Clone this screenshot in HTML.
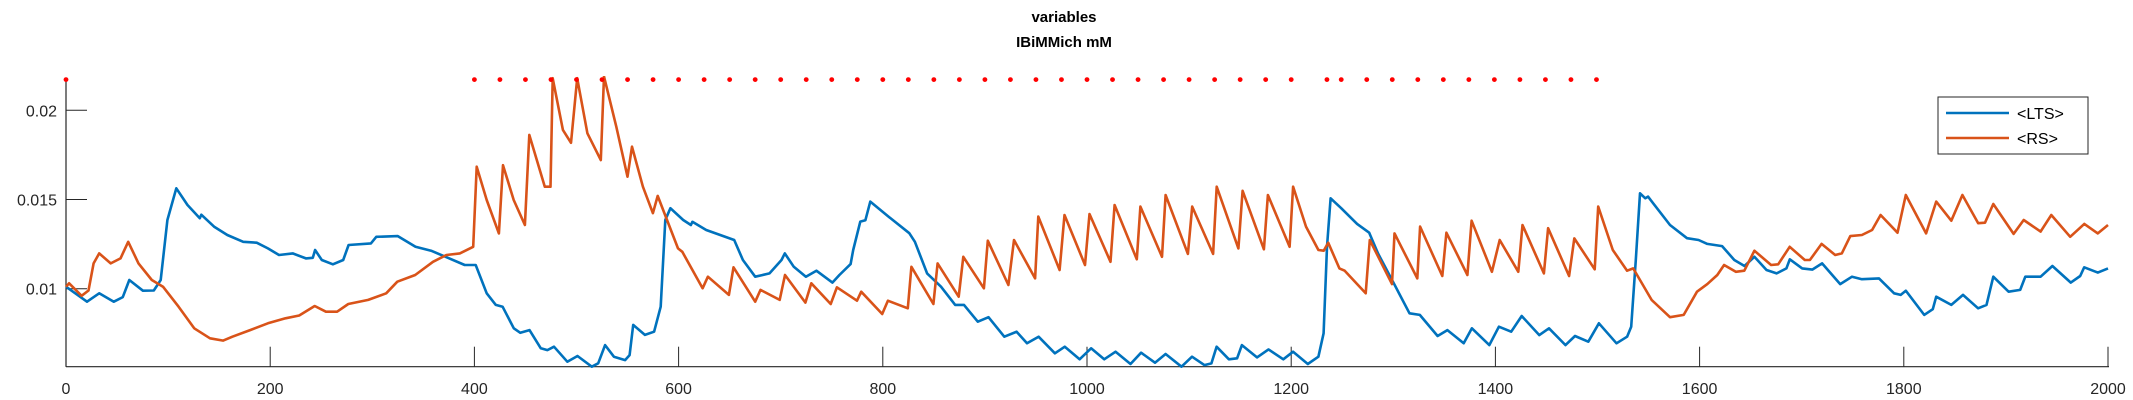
<!DOCTYPE html>
<html><head><meta charset="utf-8"><style>
body{margin:0;background:#fff;}
svg{display:block;font-family:"Liberation Sans",sans-serif;}
</style></head><body>
<svg id="chart" width="2133" height="400" viewBox="0 0 2133 400" xmlns="http://www.w3.org/2000/svg">
<text x="1064" y="22" text-anchor="middle" font-size="15" font-weight="bold" fill="#000">variables</text>
<text x="1064" y="47" text-anchor="middle" font-size="15" font-weight="bold" fill="#000">IBiMMich mM</text>
<g id="axes"></g>
<defs><clipPath id="clip"><rect x="60" y="76" width="2060" height="300"/></clipPath></defs>
<g id="plot" clip-path="url(#clip)"></g>
<g id="dots"></g>
<g>
<rect x="1938" y="97" width="150" height="57" fill="#fff" stroke="#262626" stroke-width="1"/>
<line x1="1946" y1="113" x2="2009" y2="113" stroke="#0072BD" stroke-width="2.5"/>
<text x="2017" y="119" font-size="16" fill="#000">&lt;LTS&gt;</text>
<line x1="1946" y1="138" x2="2009" y2="138" stroke="#D95319" stroke-width="2.5"/>
<text x="2017" y="144" font-size="16" fill="#000">&lt;RS&gt;</text>
</g>
</svg>
<script>
const xTicks=[0,200,400,600,800,1000,1200,1400,1600,1800,2000];
const yTicks=[0.01,0.015,0.02];
const yTickLabels=["0.01","0.015","0.02"];
const eventTimes=[0,400,425,450,475,500,525,550,575,600,625,650,675,700,725,750,775,800,825,850,875,900,925,950,975,1000,1025,1050,1075,1100,1125,1150,1175,1200,1235,1249,1274,1299,1324,1349,1374,1399,1424,1449,1474,1499];
const eventLevel=0.02172;
const ltsT=[0,20.6,32.5,46.8,55.6,62,75.3,86,92.8,99.3,108,119,131,132.5,145,158,173.6,186.8,197.7,208.6,222,235,241.7,244,250.5,261.4,271.5,276.8,298.6,303.9,325,342.3,357.6,372.9,390.5,401.3,412,421,427.6,438.6,445,454,465,471.5,478,491,501,515,521.3,528,536.6,547.6,552,555.5,567,576,582.5,587,592,604.5,612,613.5,627,654.5,663,675,689,700.8,704,712.8,724.7,735,750.6,757.5,768.5,771,778,783,787.8,805.6,826,831.4,843.4,857,870.9,879.5,893,903.5,919,931,941.2,952.6,968.6,978.3,992.8,1004,1016.8,1028,1042.6,1053,1066.6,1077,1092.6,1102.8,1115,1121.8,1126.9,1139,1147,1151.7,1166.5,1177.8,1192.3,1201.9,1216.3,1226.6,1231.7,1235.1,1238.6,1249,1264.5,1276.4,1285,1300.5,1315.9,1326,1343.4,1353,1369,1377,1394,1403.4,1415.5,1425.8,1443,1452.5,1468.7,1478,1491,1501.4,1518.6,1529,1533,1537.5,1541.6,1546.8,1549.5,1571,1587.7,1599,1607.5,1622,1634,1644,1653.7,1665.5,1675.4,1685,1688.3,1700.5,1710.4,1720,1737.7,1749.3,1759,1775.7,1790.5,1797,1802,1820,1828.4,1831.7,1846.5,1858,1872.8,1881,1887.7,1902.6,1914,1919,1934,1945.5,1963.6,1972.8,1976.7,1990,2000];
const ltsV=[0.01011,0.00927,0.00974,0.00927,0.00953,0.01049,0.00989,0.0099,0.01049,0.01385,0.01563,0.01469,0.01395,0.01415,0.01348,0.01301,0.01263,0.01258,0.01226,0.01189,0.01198,0.0117,0.01173,0.01217,0.01161,0.01137,0.01161,0.01245,0.01254,0.01291,0.01295,0.01235,0.01213,0.01176,0.01133,0.01133,0.00974,0.00909,0.00899,0.00778,0.00753,0.00768,0.00666,0.00656,0.00675,0.00591,0.00623,0.00563,0.00582,0.00684,0.00619,0.006,0.00628,0.00797,0.00741,0.00759,0.00899,0.01385,0.01451,0.01385,0.01357,0.01375,0.01329,0.01273,0.01161,0.01067,0.01086,0.01161,0.01198,0.01123,0.01067,0.01101,0.01034,0.01077,0.01138,0.01217,0.01376,0.01384,0.01488,0.01404,0.01311,0.01263,0.01086,0.01011,0.00909,0.00909,0.00815,0.0084,0.00731,0.00759,0.00694,0.00731,0.00638,0.00675,0.00604,0.00666,0.00604,0.00647,0.00578,0.00641,0.00585,0.00634,0.00563,0.00619,0.00572,0.00581,0.00675,0.00604,0.0061,0.00684,0.00615,0.0066,0.00604,0.00647,0.00578,0.00619,0.0075,0.01235,0.01507,0.01451,0.01363,0.01314,0.01198,0.0103,0.00862,0.00853,0.00735,0.00768,0.00694,0.00778,0.00684,0.00787,0.00759,0.00847,0.0074,0.00778,0.00684,0.00735,0.00703,0.00806,0.00694,0.00731,0.00787,0.01161,0.01535,0.01507,0.01516,0.01357,0.01283,0.01273,0.01251,0.01239,0.01161,0.01127,0.01179,0.01105,0.01086,0.01114,0.01165,0.01114,0.01107,0.01142,0.01026,0.01067,0.01053,0.01058,0.00974,0.00965,0.00989,0.00853,0.00885,0.00955,0.00909,0.00965,0.0089,0.00909,0.01067,0.00983,0.00993,0.01067,0.01067,0.01127,0.01034,0.01071,0.0112,0.0109,0.01114];
const rsT=[0,3,15.3,22,27,32.5,43.8,53.4,60.9,71,84,95,110.3,125.6,141,154,163,180.3,197.7,215,228.4,243.6,254.6,265.5,276.5,296,313.6,324.5,342,359.5,372.6,385.7,398.8,402.3,412,424,428,438.5,449.5,453.8,469,474.5,476.7,486.7,494.6,500.7,510.7,523.8,526.9,539,550,554.4,565,574.8,579.5,599.4,603.6,623.5,628.7,649.3,653.8,675,680.2,699,704.2,724.2,730,749,755,774.7,778.8,799.4,805,824.5,828,849.6,853.7,874.3,878.8,899,902.8,923,928.5,949.2,952.3,973.2,978,998,1002.4,1023,1027,1048.8,1052.3,1073.5,1077,1098.8,1103,1123.5,1127,1148.3,1152.4,1173.3,1177.2,1198.4,1201.9,1214.5,1226.6,1231.8,1236.2,1247.2,1252.4,1273,1277,1298.7,1301.2,1323.5,1326.2,1348,1352,1372.6,1376.7,1396.6,1404.2,1422.4,1426.5,1447.5,1451.6,1472.2,1477.3,1497.3,1500.7,1515,1529,1535,1553,1571,1584.4,1597.5,1607.5,1617.3,1624,1635.5,1643.8,1653.7,1670,1677,1688.2,1703,1708,1719.5,1732.8,1739.3,1747.6,1759,1769,1777.3,1793.8,1802,1821.8,1831.7,1846.5,1857.4,1872.9,1879.5,1887.7,1907.5,1917.4,1934,1944.5,1963,1976.8,1990,2000];
const rsV=[0.01011,0.0103,0.0096,0.0099,0.01142,0.01198,0.01142,0.0117,0.01263,0.01142,0.01049,0.01011,0.00899,0.00778,0.00722,0.00709,0.00731,0.00768,0.00806,0.00834,0.0085,0.00903,0.00871,0.00871,0.00914,0.00937,0.00974,0.01039,0.01077,0.01151,0.01189,0.01198,0.01235,0.01684,0.01497,0.0131,0.01692,0.01497,0.01357,0.01862,0.01572,0.01572,0.0218,0.0189,0.01818,0.0218,0.01871,0.01721,0.0219,0.01908,0.01628,0.01796,0.01572,0.01423,0.0152,0.01226,0.01207,0.01002,0.01067,0.00965,0.0112,0.00927,0.00993,0.00937,0.01077,0.00922,0.0103,0.00914,0.01008,0.00933,0.00983,0.00858,0.00933,0.0089,0.01123,0.00914,0.01142,0.00955,0.01179,0.01002,0.01269,0.01021,0.01273,0.01058,0.01404,0.01105,0.01413,0.01133,0.01419,0.01151,0.01469,0.01165,0.0146,0.01179,0.01525,0.01195,0.0146,0.01195,0.01572,0.01226,0.01549,0.01221,0.01525,0.01235,0.01572,0.01348,0.01217,0.01213,0.01258,0.01114,0.01101,0.00974,0.01273,0.01026,0.0131,0.01058,0.01348,0.01071,0.01314,0.01077,0.01381,0.01095,0.01273,0.01095,0.01357,0.01086,0.01339,0.01071,0.01282,0.01109,0.0146,0.01217,0.01101,0.01114,0.00937,0.0084,0.00853,0.00983,0.01026,0.01077,0.01133,0.01095,0.01101,0.01213,0.01133,0.01137,0.01235,0.01161,0.01161,0.01251,0.01189,0.01198,0.01295,0.01301,0.01329,0.01413,0.01314,0.01525,0.0131,0.01488,0.01381,0.01525,0.01367,0.0137,0.01475,0.01307,0.01385,0.0132,0.01413,0.01291,0.01363,0.0131,0.01357];

const NS="http://www.w3.org/2000/svg";
const X0=66,X1=2108,YB=366.7,YREF=288.7;
function sx(t){return X0+(t-0)*(X1-X0)/2000;}
function sy(v){return YREF-(v-0.01)*17840;}
const axes=document.getElementById('axes');
function mk(tag,attrs,parent){const e=document.createElementNS(NS,tag);for(const k in attrs)e.setAttribute(k,attrs[k]);parent.appendChild(e);return e;}
let e;
e=mk('line',{x1:X0,y1:YB,x2:X1+1,y2:YB,stroke:'#262626','stroke-width':1.2},axes);


e=mk('line',{x1:X0,y1:78,x2:X0,y2:YB,stroke:'#262626','stroke-width':1.2},axes);


xTicks.forEach(t=>{
  const x=sx(t);
  let l=mk('line',{x1:x,y1:YB,x2:x,y2:YB-20,stroke:'#262626','stroke-width':1},axes);
  
  
  let tx=mk('text',{x:x,y:394,'text-anchor':'middle','font-size':16,fill:'#262626'},axes);
  tx.textContent=t;
  
  
});
yTicks.forEach((v,i)=>{
  const y=sy(v);
  let l=mk('line',{x1:X0,y1:y,x2:X0+21,y2:y,stroke:'#262626','stroke-width':1},axes);
  
  
  let tx=mk('text',{x:57,y:y+6,'text-anchor':'end','font-size':16,fill:'#262626'},axes);
  tx.textContent=yTickLabels[i];
  
  
});
const plot=document.getElementById('plot');
function path(T,V){return T.map((t,i)=>(i?'L':'M')+sx(t).toFixed(1)+','+sy(V[i]).toFixed(1)).join('');}
e=mk('path',{d:path(ltsT,ltsV),fill:'none',stroke:'#0072BD','stroke-width':2.6,'stroke-linejoin':'round'},plot);


e=mk('path',{d:path(rsT,rsV),fill:'none',stroke:'#D95319','stroke-width':2.6,'stroke-linejoin':'round'},plot);


const dots=document.getElementById('dots');
eventTimes.forEach(t=>{
  let c=mk('circle',{cx:sx(t),cy:sy(eventLevel),r:2.4,fill:'#FF0000'},dots);
  
  
});
</script>
</body></html>
